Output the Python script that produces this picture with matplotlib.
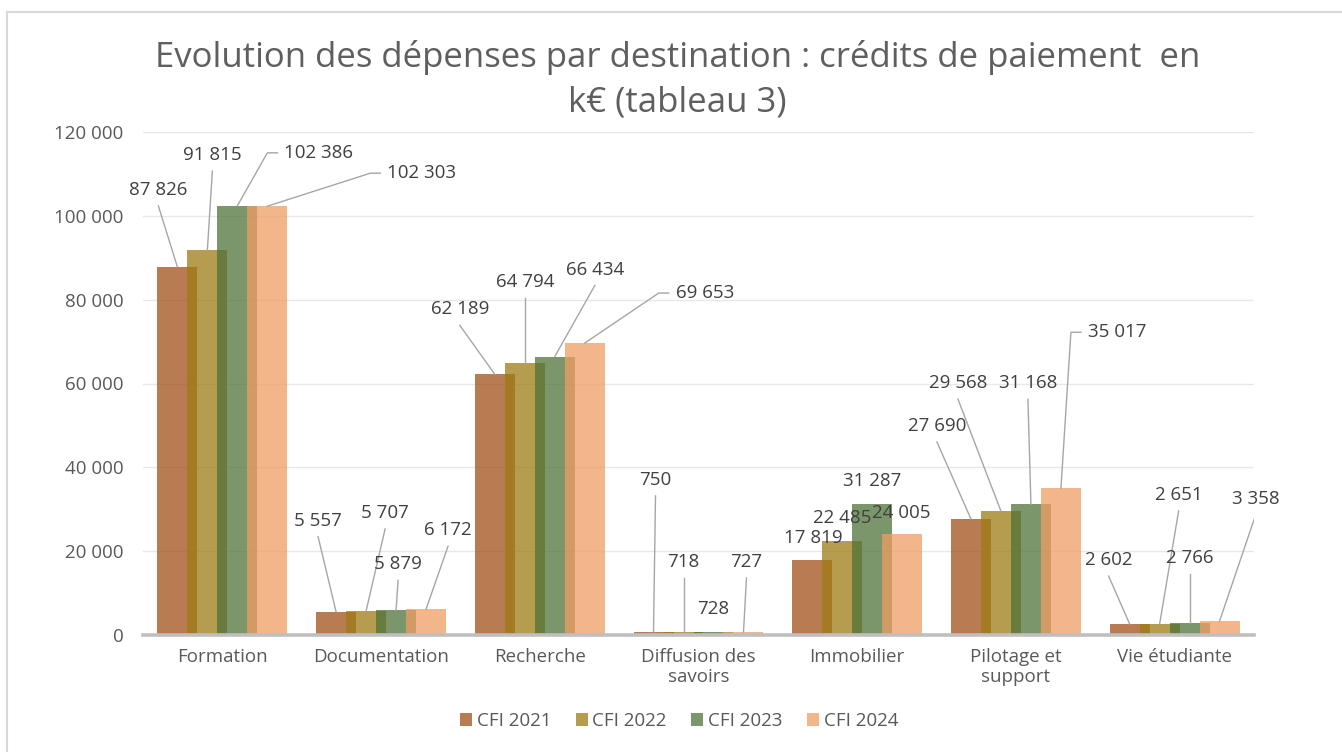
import matplotlib.pyplot as plt
from matplotlib.lines import Line2D
import numpy as np

plt.rcParams['font.family'] = ['Open Sans', 'DejaVu Sans']

categories = ["Formation", "Documentation", "Recherche", "Diffusion des\nsavoirs",
              "Immobilier", "Pilotage et\nsupport", "Vie étudiante"]
series_names = ["CFI 2021", "CFI 2022", "CFI 2023", "CFI 2024"]
cfi_2021 = [87826, 5557, 62189, 750, 17819, 27690, 2602]
cfi_2022 = [91815, 5707, 64794, 718, 22485, 29568, 2651]
cfi_2023 = [102386, 5879, 66434, 728, 31287, 31168, 2766]
cfi_2024 = [102303, 6172, 69653, 727, 24005, 35017, 3358]
yticks = [0, 20000, 40000, 60000, 80000, 100000, 120000]

COLORS = ["#A25018", "#9E7B13", "#4E7338", "#F09C63"]
TXT = "#595959"
LBL = "#404040"
LEAD = "#A6A6A6"
FS = 13.5

# label placement (pixel offsets from bar top): c = leader from below, e = elbow, n = no leader
LABEL_POS = [
    [(-19, 77, 'c'), (-18, 91, 'c'), (-35, 65, 'c'), (2, 152, 'c'), (1, 22, 'n'), (-34, 93, 'c'), (-21, 64, 'c')],
    [(5, 95, 'c'), (19, 98, 'c'), (0, 81, 'c'), (0, 70, 'c'), (0, 23, 'n'), (-43, 128, 'c'), (19, 129, 'c')],
    [(47, 53, 'e'), (2, 46, 'c'), (40, 87, 'c'), (0, 23, 'n'), (0, 23, 'n'), (-3, 121, 'c'), (0, 65, 'c')],
    [(120, 33, 'e'), (22, 79, 'c'), (91, 50, 'e'), (3, 70, 'c'), (-1, 21, 'n'), (27, 156, 'e'), (36, 122, 'c')],
]

W, H = 1342, 752
fig = plt.figure(figsize=(W / 100, H / 100), dpi=100)
ax = fig.add_axes([143 / W, 1 - 635 / H, (1254 - 143) / W, (635 - 132) / H])

x = np.arange(len(categories))
step, width = 0.189, 0.252
all_series = [cfi_2021, cfi_2022, cfi_2023, cfi_2024]
for i, vals in enumerate(all_series):
    ax.bar(x + (i - 1.5) * step, vals, width, color=COLORS[i], alpha=0.75,
           label=series_names[i], zorder=2, linewidth=0)

ax.set_xlim(-0.5, len(categories) - 0.5)
ax.set_ylim(0, 120000)
ax.set_yticks(yticks)
ax.set_yticklabels([f"{v:,}".replace(",", " ") for v in yticks])
ax.set_xticks(x)
ax.set_xticklabels(categories)
ax.grid(axis="y", color="#E8E8E8", lw=1, zorder=0)
for s in ["top", "right", "left"]:
    ax.spines[s].set_visible(False)
ax.spines["bottom"].set_color("#BFBFBF")
ax.spines["bottom"].set_linewidth(2.6)
ax.spines["bottom"].set_zorder(4)
ax.tick_params(axis="both", length=0, labelsize=FS, colors=TXT)
ax.tick_params(axis="y", pad=14)
ax.tick_params(axis="x", pad=9)


def off(px, py, dx, dy):
    d = ax.transData.transform((px, py)) + np.array([dx, dy])
    return ax.transData.inverted().transform(d)


for i, vals in enumerate(all_series):
    for j, v in enumerate(vals):
        bx = x[j] + (i - 1.5) * step
        dx, dy, kind = LABEL_POS[i][j]
        txt = f"{v:,}".replace(",", " ")
        tx, ty = off(bx, v, dx, dy)
        if kind == 'e':
            ax.text(tx, ty, txt, ha="left", va="center", fontsize=FS, color=LBL, zorder=5)
            p1 = off(bx, v, dx - 7, dy)
            p2 = off(bx, v, dx - 17, dy)
            ax.plot([p1[0], p2[0], bx], [p1[1], p2[1], v], color=LEAD, lw=1, zorder=3)
        else:
            ax.text(tx, ty, txt, ha="center", va="center", fontsize=FS, color=LBL, zorder=5)
            if kind == 'c':
                p1 = off(bx, v, dx, dy - 16)
                ax.plot([p1[0], bx], [p1[1], v], color=LEAD, lw=1, zorder=3)

fig.text(0.505, 1 - 80 / H,
         "Evolution des dépenses par destination : crédits de paiement  en\nk€ (tableau 3)",
         ha="center", va="center", fontsize=25, color="#5F5F5F", linespacing=1.42)

leg = fig.legend(loc="center", bbox_to_anchor=(0.5 + 8 / W, 1 - 721 / H), ncol=4, frameon=False,
                 fontsize=FS, handlelength=0.65, handleheight=0.65, handletextpad=0.25,
                 columnspacing=1.3)
for t in leg.get_texts():
    t.set_color(TXT)

fig.add_artist(Line2D([7 / W, 1], [1 - 12 / H, 1 - 12 / H], color="#D9D9D9", lw=1.5))
fig.add_artist(Line2D([7 / W, 7 / W], [0, 1 - 12 / H], color="#D9D9D9", lw=1.5))

fig.savefig("out.png", dpi=100)
